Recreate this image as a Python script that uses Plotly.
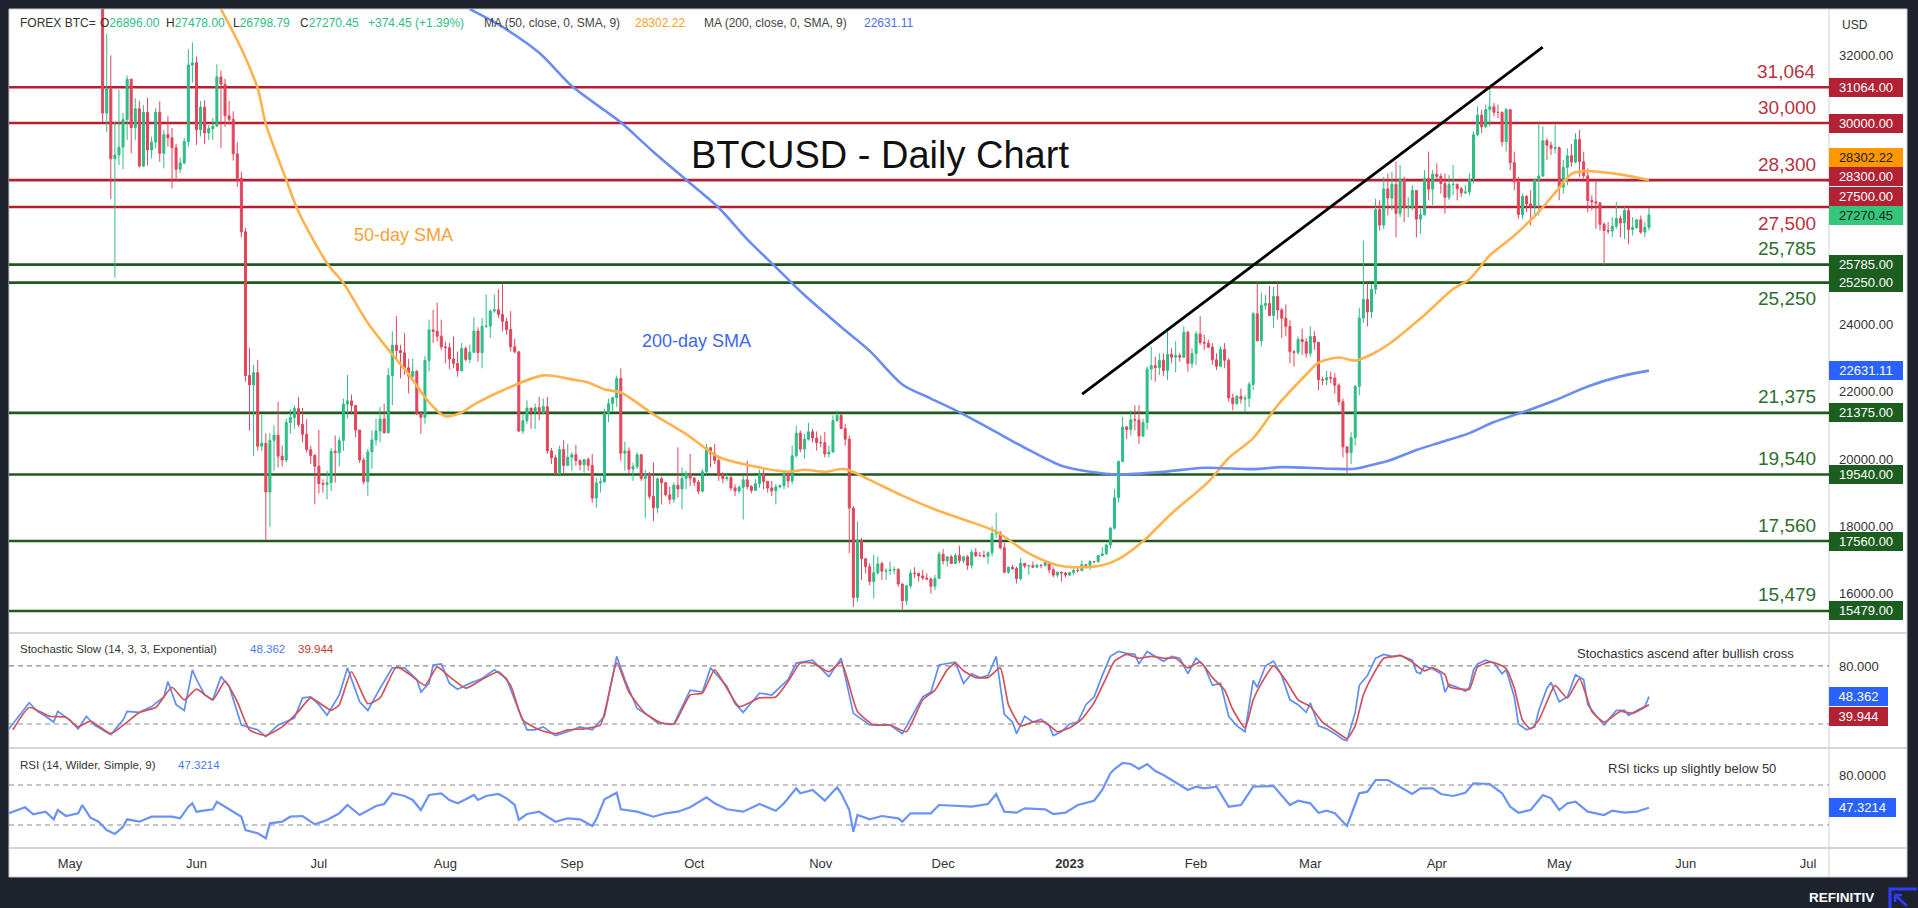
import pandas as pd
import plotly.graph_objects as go

# ---------------------------------------------------------------- data
first_open = 34060.0

close_2022_05 = [30296, 31022, 28936, 29047, 29283, 30101, 31305, 29863, 30425, 28720, 30314, 29200, 29432, 30323, 29098, 29655, 29562, 29267, 28627, 28814, 29445, 31726, 31792]
high_2022_05 = [34245, 32659, 32013, 30032, 30997, 30301, 31414, 31320, 30738, 30666, 30532, 30750, 29600, 30450, 30650, 29800, 30200, 29850, 29380, 28970, 29560, 32200, 32400]
low_2022_05 = [30033, 29730, 27736, 25400, 28751, 28630, 29491, 29100, 29500, 28680, 28688, 28743, 28950, 29250, 28850, 28650, 29300, 28050, 28250, 28500, 28770, 29300, 31200]

close_2022_06 = [29800, 30468, 29704, 29833, 29906, 31370, 31155, 30214, 30112, 29083, 28360, 26762, 22487, 22206, 22572, 20381, 20471, 19017, 20554, 20711, 20087, 19969, 21086, 21232, 21503, 21028, 20735, 20281, 20105, 19785]
high_2022_06 = [31980, 30650, 30680, 29940, 30150, 31750, 31560, 31320, 30660, 30350, 29430, 28550, 26880, 23300, 22800, 22950, 21320, 20760, 20780, 21000, 21700, 20400, 21200, 21480, 21600, 21850, 21520, 21180, 20400, 20150]
low_2022_06 = [29350, 29600, 29370, 29500, 29500, 29900, 29260, 29880, 29950, 28880, 28100, 26600, 22300, 20850, 20100, 20250, 20240, 17600, 17980, 19650, 19750, 19770, 19900, 20750, 20900, 20950, 20500, 20200, 19850, 18650]

close_2022_07 = [19270, 19243, 19297, 20232, 20190, 20548, 21638, 21731, 21593, 20862, 19970, 19323, 20212, 20569, 20836, 21191, 20779, 22485, 23389, 23231, 23164, 22714, 22465, 22609, 21361, 21239, 22930, 23843, 23804, 23656, 23336]
high_2022_07 = [20870, 19400, 19650, 20330, 20700, 20660, 21800, 22500, 21920, 21600, 20870, 20050, 20300, 20850, 21200, 21550, 21650, 22700, 23800, 24250, 23400, 23750, 22980, 23000, 22650, 21380, 23070, 24150, 24440, 24650, 24150]
low_2022_07 = [18970, 19000, 18800, 19050, 19300, 19780, 20240, 21200, 21330, 20650, 19880, 19240, 18910, 19700, 20400, 20500, 20770, 20770, 21600, 23000, 22400, 22500, 21950, 22300, 21300, 20750, 21050, 22600, 23450, 23500, 23250]

close_2022_08 = [23314, 22978, 22846, 22630, 23289, 22961, 23175, 23810, 23164, 23948, 23957, 24403, 24441, 24305, 24094, 23854, 23342, 23191, 20834, 21140, 21516, 21400, 21529, 21368, 21559, 20241, 20037, 19555, 20285, 19811, 20050]
high_2022_08 = [23480, 23450, 23650, 23200, 23450, 23350, 23400, 24220, 23920, 24200, 24900, 24450, 24900, 25050, 25200, 24200, 24400, 23580, 23200, 21350, 21750, 21520, 21650, 21850, 21800, 21850, 20330, 20120, 20400, 20560, 20450]
low_2022_08 = [22850, 22680, 22700, 22450, 22600, 22900, 22850, 23150, 22900, 22700, 23900, 23600, 24350, 24200, 23800, 23700, 23200, 23150, 20800, 20750, 21050, 20900, 20900, 21150, 21330, 20150, 19850, 19550, 19550, 19550, 19800]

close_2022_09 = [20127, 19952, 19832, 19986, 19812, 18837, 19290, 19319, 21361, 21651, 21826, 22395, 20173, 20241, 19701, 19772, 20127, 19419, 19544, 18891, 18547, 19413, 19297, 18937, 18802, 19222, 19110, 19426, 19573, 19431]
high_2022_09 = [20200, 20420, 19990, 20000, 20050, 20150, 19450, 19450, 21500, 21800, 21850, 22480, 22700, 20520, 20350, 19890, 20200, 20150, 19680, 19620, 19900, 19450, 19480, 19300, 19180, 19300, 20350, 19750, 19650, 20150]
low_2022_09 = [19650, 19800, 19660, 19600, 19650, 18700, 18550, 19000, 19300, 21100, 21400, 21550, 19950, 19650, 19550, 19350, 19700, 19350, 18250, 18800, 18150, 18400, 18650, 18880, 18650, 18700, 18850, 18500, 19100, 19200]

close_2022_10 = [19312, 19044, 19623, 20336, 20161, 19957, 19531, 19417, 19446, 19141, 19051, 19157, 19382, 19185, 19067, 19268, 19550, 19334, 19139, 19053, 19172, 19208, 19567, 19345, 20095, 20771, 20295, 20591, 20809, 20627, 20490]
high_2022_10 = [19470, 19380, 19700, 20450, 20350, 20450, 20050, 19600, 19550, 19520, 19250, 19220, 19500, 19950, 19220, 19400, 19680, 19700, 19350, 19350, 19250, 19250, 19680, 19600, 20400, 21000, 20850, 20750, 21080, 20900, 20820]
low_2022_10 = [19200, 18950, 19000, 19550, 19750, 19850, 19350, 19280, 19350, 19050, 18900, 18980, 18200, 19100, 18980, 19050, 19150, 19100, 19000, 18900, 18650, 19120, 19100, 19150, 19250, 20050, 20200, 20000, 20550, 20500, 20250]

close_2022_11 = [20483, 20151, 20207, 21148, 21300, 20905, 20591, 18541, 15880, 17586, 17034, 16799, 16353, 16618, 16884, 16663, 16680, 16698, 16712, 16280, 15782, 16226, 16603, 16598, 16522, 16458, 16428, 16212, 16442, 17168]
high_2022_11 = [20700, 20800, 20400, 21300, 21450, 21350, 21050, 20700, 18600, 18150, 17650, 17050, 16900, 17150, 17100, 16950, 16750, 16950, 16800, 16750, 16300, 16250, 16700, 16780, 16610, 16700, 16600, 16480, 16550, 17250]
low_2022_11 = [20350, 20050, 20050, 20200, 21100, 20900, 20400, 17200, 15600, 15750, 16400, 16600, 16250, 15850, 16550, 16400, 16400, 16550, 16580, 16200, 15479, 15650, 16150, 16460, 16350, 16400, 16400, 16000, 16100, 16430]

close_2022_12 = [16968, 17090, 16890, 17130, 16975, 17089, 16837, 17225, 17128, 17128, 17105, 17207, 17780, 17803, 17357, 16633, 16776, 16739, 16439, 16900, 16818, 16823, 16780, 16843, 16832, 16917, 16703, 16545, 16633, 16607, 16547]
high_2022_12 = [17320, 17100, 17150, 17200, 17420, 17100, 17140, 17300, 17350, 17230, 17270, 17250, 18000, 18400, 17850, 17500, 16800, 16850, 16800, 17050, 16900, 16860, 16950, 16870, 16860, 16950, 16950, 16780, 16650, 16650, 16640]
low_2022_12 = [16860, 16800, 16880, 16880, 16900, 16900, 16700, 16740, 17080, 17090, 17070, 16880, 17100, 17650, 17300, 16600, 16580, 16700, 16300, 16400, 16750, 16550, 16770, 16780, 16750, 16800, 16600, 16480, 16480, 16350, 16480]

close_2023_01 = [16625, 16688, 16680, 16857, 16831, 16950, 16944, 17127, 17178, 17440, 17943, 18846, 19930, 20955, 20880, 21169, 21161, 20688, 21086, 22676, 22777, 22720, 22934, 22636, 23117, 23032, 23078, 23031, 23774, 22840, 23139]
high_2023_01 = [16640, 16750, 16760, 16980, 16880, 17000, 16960, 17150, 17380, 17480, 17980, 19100, 19950, 21250, 20980, 21450, 21600, 21600, 21200, 22750, 23350, 23050, 23150, 23150, 23800, 23300, 23500, 23150, 23950, 23820, 23300]
low_2023_01 = [16520, 16550, 16620, 16660, 16750, 16700, 16900, 16920, 17120, 17150, 17330, 17900, 18700, 19900, 20600, 20700, 20850, 20450, 20650, 20870, 22350, 22300, 22500, 22480, 22350, 22850, 22580, 22900, 23000, 22600, 22720]

close_2023_02 = [23723, 23471, 23449, 23331, 22955, 22760, 23264, 22939, 21819, 21651, 21870, 21788, 21808, 22220, 24324, 23517, 24570, 24631, 24271, 24838, 24436, 24189, 23947, 23198, 23175, 23555, 23492, 23148]
high_2023_02 = [23800, 24250, 23700, 23550, 23450, 23150, 23350, 23450, 23000, 21950, 21900, 22100, 21900, 22300, 24380, 25250, 24950, 24880, 25150, 25120, 25250, 24500, 24600, 24130, 23230, 23650, 23880, 23600]
low_2023_02 = [22800, 23400, 23250, 23300, 22800, 22650, 22750, 22700, 21700, 21450, 21600, 21650, 21400, 21550, 22050, 23500, 23350, 24450, 24250, 23900, 24150, 23600, 23650, 22850, 22750, 23100, 23100, 23020]

close_2023_03 = [23647, 23475, 22362, 22354, 22430, 22410, 22198, 21705, 20363, 20187, 20633, 22163, 24197, 24746, 24376, 25052, 27423, 26966, 28038, 27767, 28176, 27307, 28333, 27493, 27494, 27994, 27139, 27268, 28348, 28033, 28478]
high_2023_03 = [23950, 23800, 23480, 22450, 22620, 22600, 22550, 22250, 21800, 20380, 20800, 22200, 24500, 26500, 25250, 25200, 27750, 27700, 28400, 28500, 28550, 28850, 28750, 28400, 27800, 28150, 28000, 27450, 28600, 29150, 28600]
low_2023_03 = [23050, 23250, 22050, 22200, 22200, 22250, 21950, 21600, 20050, 19540, 19850, 20400, 21900, 24050, 23950, 24200, 24900, 26800, 26850, 27250, 27400, 26600, 27200, 27050, 27200, 27400, 26600, 26700, 27250, 27700, 27560]

close_2023_04 = [28411, 28200, 27790, 28169, 28175, 28044, 27925, 27948, 28333, 29653, 30235, 29892, 30400, 30485, 30318, 30315, 29445, 30397, 28822, 28245, 27276, 27817, 27592, 27525, 28307, 28422, 29473, 29340, 29248, 29268]
high_2023_04 = [28800, 28500, 28500, 28450, 28750, 28200, 28100, 28150, 28500, 29750, 30500, 30400, 30550, 31064, 30600, 30550, 30350, 30450, 30400, 29150, 28400, 27900, 27850, 28000, 28350, 30000, 29900, 29550, 29450, 29950]
low_2023_04 = [28250, 27900, 27300, 27700, 27850, 27700, 27800, 27880, 27850, 28200, 29600, 29700, 29850, 29900, 30200, 30150, 29300, 29150, 28600, 28000, 27150, 27150, 27350, 26950, 27200, 27250, 28400, 28900, 29050, 29100]

close_2023_05 = [28091, 28680, 29026, 28838, 29507, 28848, 28430, 27694, 27655, 27621, 26988, 26804, 26785, 26931, 27158, 27030, 27400, 26833, 26890, 27118, 26754, 26896, 27270.45]
high_2023_05 = [29300, 28900, 29250, 29380, 29700, 29800, 29150, 28650, 27850, 28300, 27650, 27050, 27050, 27200, 27650, 27250, 27500, 27500, 27200, 27150, 27250, 27050, 27478]
low_2023_05 = [27700, 27900, 28150, 28700, 28800, 28400, 28350, 27350, 27400, 26850, 26800, 25785, 26700, 26600, 26850, 26600, 26550, 26400, 26650, 26850, 26700, 26600, 26798.79]

closes = (close_2022_05 + close_2022_06 + close_2022_07 + close_2022_08 + close_2022_09 + close_2022_10
          + close_2022_11 + close_2022_12 + close_2023_01 + close_2023_02 + close_2023_03 + close_2023_04 + close_2023_05)
highs = (high_2022_05 + high_2022_06 + high_2022_07 + high_2022_08 + high_2022_09 + high_2022_10
         + high_2022_11 + high_2022_12 + high_2023_01 + high_2023_02 + high_2023_03 + high_2023_04 + high_2023_05)
lows = (low_2022_05 + low_2022_06 + low_2022_07 + low_2022_08 + low_2022_09 + low_2022_10
        + low_2022_11 + low_2022_12 + low_2023_01 + low_2023_02 + low_2023_03 + low_2023_04 + low_2023_05)
assert len(closes) == len(highs) == len(lows) == 380
dates = pd.date_range("2022-05-09", periods=len(closes), freq="D")
opens = [first_open] + closes[:-1]

sma50 = [("2022-06-07", 33390), ("2022-06-12", 32210), ("2022-06-16", 31030), ("2022-06-18", 29970),
         ("2022-06-23", 28310), ("2022-06-26", 27360), ("2022-07-03", 25830), ("2022-07-07", 25240),
         ("2022-07-13", 24050), ("2022-07-19", 23110), ("2022-07-23", 22520), ("2022-07-28", 21690),
         ("2022-08-01", 21270), ("2022-08-05", 21390), ("2022-08-08", 21620), ("2022-08-15", 22040),
         ("2022-08-25", 22490), ("2022-09-01", 22370), ("2022-09-05", 22280), ("2022-09-09", 22070),
         ("2022-09-13", 21980), ("2022-09-21", 21330), ("2022-09-29", 20740), ("2022-10-07", 20060),
         ("2022-10-15", 19800), ("2022-10-24", 19620), ("2022-10-28", 19680), ("2022-11-02", 19620),
         ("2022-11-07", 19700), ("2022-11-13", 19380), ("2022-11-21", 18910), ("2022-11-29", 18500),
         ("2022-12-06", 18200), ("2022-12-14", 17840), ("2022-12-22", 17190), ("2022-12-29", 16840),
         ("2023-01-03", 16780), ("2023-01-09", 16840), ("2023-01-13", 17020), ("2023-01-19", 17550),
         ("2023-01-26", 18380), ("2023-02-04", 19320), ("2023-02-09", 20030), ("2023-02-15", 20620),
         ("2023-02-21", 21600), ("2023-02-28", 22515), ("2023-03-03", 22870), ("2023-03-08", 23020),
         ("2023-03-12", 22930), ("2023-03-16", 23110), ("2023-03-20", 23400), ("2023-03-29", 24290),
         ("2023-04-05", 25060), ("2023-04-09", 25350), ("2023-04-14", 26060), ("2023-04-20", 26650),
         ("2023-04-26", 27360), ("2023-05-01", 28070), ("2023-05-04", 28490), ("2023-05-07", 28570),
         ("2023-05-11", 28545), ("2023-05-17", 28450), ("2023-05-23", 28302.22)]

sma200 = [("2022-08-07", 33390), ("2022-08-15", 32860), ("2022-08-24", 32090), ("2022-09-01", 31100),
          ("2022-09-09", 30380), ("2022-09-13", 30020), ("2022-09-21", 29140), ("2022-09-29", 28310),
          ("2022-10-07", 27480), ("2022-10-14", 26540), ("2022-10-21", 25710), ("2022-10-28", 24880),
          ("2022-11-06", 23930), ("2022-11-13", 23220), ("2022-11-21", 22220), ("2022-11-28", 21800),
          ("2022-12-06", 21330), ("2022-12-14", 20800), ("2022-12-22", 20270), ("2022-12-30", 19800),
          ("2023-01-06", 19620), ("2023-01-13", 19540), ("2023-01-24", 19620), ("2023-02-03", 19740),
          ("2023-02-15", 19700), ("2023-02-22", 19760), ("2023-03-06", 19710), ("2023-03-12", 19710),
          ("2023-03-17", 19850), ("2023-03-20", 19940), ("2023-03-27", 20270), ("2023-04-02", 20500),
          ("2023-04-09", 20770), ("2023-04-15", 21100), ("2023-04-22", 21390), ("2023-04-30", 21750),
          ("2023-05-08", 22160), ("2023-05-16", 22460), ("2023-05-23", 22631.11)]

stoch_k = [("2022-04-16", 14.8), ("2022-04-21", 42), ("2022-04-23", 33), ("2022-04-25", 28), ("2022-04-27", 22),
           ("2022-04-28", 33), ("2022-05-01", 24), ("2022-05-03", 15), ("2022-05-05", 28), ("2022-05-07", 19),
           ("2022-05-11", 9), ("2022-05-14", 24), ("2022-05-15", 33), ("2022-05-18", 32), ("2022-05-21", 38),
           ("2022-05-24", 48), ("2022-05-25", 64), ("2022-05-27", 40), ("2022-05-29", 34), ("2022-05-31", 76),
           ("2022-06-01", 66), ("2022-06-03", 50), ("2022-06-05", 45), ("2022-06-07", 69), ("2022-06-09", 59),
           ("2022-06-12", 19), ("2022-06-16", 14), ("2022-06-18", 7), ("2022-06-21", 19), ("2022-06-25", 26),
           ("2022-06-27", 47), ("2022-06-29", 48), ("2022-07-01", 40), ("2022-07-03", 29), ("2022-07-06", 50),
           ("2022-07-08", 78), ("2022-07-11", 43), ("2022-07-13", 34), ("2022-07-16", 57), ("2022-07-19", 78),
           ("2022-07-22", 78), ("2022-07-25", 66), ("2022-07-26", 53), ("2022-07-28", 62), ("2022-07-29", 81),
           ("2022-07-31", 82), ("2022-08-02", 62), ("2022-08-04", 56), ("2022-08-07", 62), ("2022-08-10", 67),
           ("2022-08-13", 76), ("2022-08-16", 67), ("2022-08-19", 34), ("2022-08-21", 14), ("2022-08-23", 14),
           ("2022-08-25", 17), ("2022-08-28", 8), ("2022-08-31", 12), ("2022-09-03", 17), ("2022-09-06", 14),
           ("2022-09-09", 28), ("2022-09-12", 90), ("2022-09-14", 66), ("2022-09-17", 36), ("2022-09-20", 28),
           ("2022-09-22", 21), ("2022-09-26", 20), ("2022-09-30", 55), ("2022-10-03", 53), ("2022-10-05", 78),
           ("2022-10-09", 59), ("2022-10-11", 41), ("2022-10-13", 32), ("2022-10-17", 52), ("2022-10-20", 50),
           ("2022-10-24", 66), ("2022-10-26", 83), ("2022-10-30", 86), ("2022-11-03", 69), ("2022-11-06", 88),
           ("2022-11-09", 31), ("2022-11-13", 19), ("2022-11-18", 19), ("2022-11-21", 10), ("2022-11-26", 48),
           ("2022-11-28", 53), ("2022-11-30", 81), ("2022-12-04", 84), ("2022-12-06", 62), ("2022-12-08", 72),
           ("2022-12-10", 68), ("2022-12-12", 70), ("2022-12-14", 90), ("2022-12-16", 30), ("2022-12-18", 22),
           ("2022-12-19", 10), ("2022-12-21", 28), ("2022-12-23", 22), ("2022-12-25", 25), ("2022-12-27", 18),
           ("2022-12-28", 8), ("2022-12-30", 12), ("2023-01-01", 20), ("2023-01-03", 22), ("2023-01-05", 40),
           ("2023-01-07", 48), ("2023-01-09", 70), ("2023-01-11", 90), ("2023-01-13", 95), ("2023-01-15", 93),
           ("2023-01-17", 92), ("2023-01-18", 82), ("2023-01-20", 95), ("2023-01-22", 90), ("2023-01-24", 85),
           ("2023-01-26", 90), ("2023-01-28", 88), ("2023-01-30", 72), ("2023-02-01", 88), ("2023-02-03", 80),
           ("2023-02-05", 60), ("2023-02-07", 62), ("2023-02-09", 28), ("2023-02-11", 18), ("2023-02-13", 12),
           ("2023-02-15", 65), ("2023-02-16", 58), ("2023-02-18", 80), ("2023-02-20", 85), ("2023-02-22", 70),
           ("2023-02-24", 45), ("2023-02-26", 40), ("2023-02-28", 32), ("2023-03-01", 42), ("2023-03-03", 18),
           ("2023-03-05", 15), ("2023-03-07", 10), ("2023-03-09", 4), ("2023-03-10", 3), ("2023-03-12", 32),
           ("2023-03-13", 60), ("2023-03-15", 70), ("2023-03-17", 88), ("2023-03-19", 92), ("2023-03-21", 90),
           ("2023-03-23", 91), ("2023-03-26", 86), ("2023-03-27", 74), ("2023-03-28", 72), ("2023-03-29", 80),
           ("2023-03-31", 77), ("2023-04-02", 72), ("2023-04-03", 53), ("2023-04-04", 61), ("2023-04-06", 58),
           ("2023-04-08", 54), ("2023-04-09", 58), ("2023-04-10", 76), ("2023-04-11", 82), ("2023-04-13", 86),
           ("2023-04-15", 83), ("2023-04-17", 72), ("2023-04-18", 76), ("2023-04-20", 48), ("2023-04-21", 20),
           ("2023-04-23", 14), ("2023-04-25", 17), ("2023-04-26", 34), ("2023-04-28", 57), ("2023-04-29", 63),
           ("2023-05-01", 43), ("2023-05-03", 48), ("2023-05-05", 71), ("2023-05-07", 66), ("2023-05-08", 40),
           ("2023-05-10", 29), ("2023-05-12", 19), ("2023-05-13", 24), ("2023-05-15", 34), ("2023-05-17", 34),
           ("2023-05-18", 29), ("2023-05-20", 34), ("2023-05-22", 38), ("2023-05-23", 48.362)]

stoch_d = [("2022-04-17", 14), ("2022-04-21", 37), ("2022-04-26", 28), ("2022-04-30", 27), ("2022-05-03", 17),
           ("2022-05-06", 23), ("2022-05-11", 10), ("2022-05-15", 22), ("2022-05-18", 32), ("2022-05-22", 37),
           ("2022-05-26", 58), ("2022-05-29", 45), ("2022-06-01", 56), ("2022-06-05", 45), ("2022-06-08", 64),
           ("2022-06-11", 43), ("2022-06-14", 14), ("2022-06-18", 8), ("2022-06-22", 17), ("2022-06-26", 33),
           ("2022-06-29", 47), ("2022-07-04", 34), ("2022-07-06", 40), ("2022-07-09", 74), ("2022-07-13", 41),
           ("2022-07-16", 47), ("2022-07-20", 79), ("2022-07-23", 72), ("2022-07-27", 60), ("2022-07-30", 79),
           ("2022-08-02", 69), ("2022-08-06", 57), ("2022-08-10", 66), ("2022-08-14", 74), ("2022-08-17", 60),
           ("2022-08-20", 24), ("2022-08-24", 14), ("2022-08-28", 10), ("2022-08-31", 14), ("2022-09-04", 15),
           ("2022-09-08", 19), ("2022-09-12", 83), ("2022-09-15", 53), ("2022-09-19", 31), ("2022-09-23", 21),
           ("2022-09-26", 20), ("2022-09-30", 50), ("2022-10-03", 52), ("2022-10-06", 76), ("2022-10-09", 57),
           ("2022-10-12", 38), ("2022-10-17", 47), ("2022-10-21", 48), ("2022-10-24", 64), ("2022-10-27", 83),
           ("2022-10-30", 83), ("2022-11-03", 74), ("2022-11-06", 84), ("2022-11-10", 33), ("2022-11-14", 19),
           ("2022-11-18", 19), ("2022-11-22", 12), ("2022-11-26", 45), ("2022-11-29", 55), ("2022-12-02", 76),
           ("2022-12-04", 83), ("2022-12-06", 75), ("2022-12-09", 68), ("2022-12-12", 68), ("2022-12-15", 78),
           ("2022-12-17", 40), ("2022-12-20", 18), ("2022-12-23", 22), ("2022-12-26", 22), ("2022-12-29", 12),
           ("2023-01-01", 16), ("2023-01-04", 25), ("2023-01-07", 42), ("2023-01-10", 68), ("2023-01-12", 85),
           ("2023-01-15", 92), ("2023-01-18", 88), ("2023-01-21", 90), ("2023-01-24", 88), ("2023-01-27", 88),
           ("2023-01-30", 78), ("2023-02-02", 84), ("2023-02-05", 68), ("2023-02-08", 55), ("2023-02-10", 35),
           ("2023-02-13", 16), ("2023-02-15", 45), ("2023-02-17", 62), ("2023-02-20", 80), ("2023-02-23", 65),
           ("2023-02-26", 45), ("2023-03-01", 38), ("2023-03-04", 22), ("2023-03-07", 13), ("2023-03-10", 5),
           ("2023-03-12", 18), ("2023-03-14", 50), ("2023-03-16", 68), ("2023-03-19", 88), ("2023-03-22", 90),
           ("2023-03-23", 91), ("2023-03-26", 84), ("2023-03-29", 75), ("2023-03-31", 78), ("2023-04-03", 71),
           ("2023-04-04", 59), ("2023-04-07", 56), ("2023-04-09", 56), ("2023-04-11", 79), ("2023-04-14", 84),
           ("2023-04-16", 82), ("2023-04-18", 77), ("2023-04-20", 57), ("2023-04-22", 24), ("2023-04-24", 15),
           ("2023-04-26", 24), ("2023-04-29", 53), ("2023-04-30", 60), ("2023-05-03", 47), ("2023-05-06", 67),
           ("2023-05-09", 33), ("2023-05-12", 22), ("2023-05-16", 33), ("2023-05-19", 31), ("2023-05-23", 39.944)]

rsi = [("2022-04-16", 41.7), ("2022-04-20", 47.7), ("2022-04-22", 40.7), ("2022-04-25", 43.3), ("2022-04-27", 35.7),
       ("2022-04-28", 45), ("2022-04-30", 39), ("2022-05-03", 41.7), ("2022-05-04", 50), ("2022-05-06", 37.3),
       ("2022-05-08", 33.3), ("2022-05-10", 25), ("2022-05-12", 21), ("2022-05-14", 28.3), ("2022-05-15", 35.7),
       ("2022-05-18", 33.3), ("2022-05-21", 38.3), ("2022-05-26", 38.3), ("2022-05-28", 36.7), ("2022-05-30", 48.3),
       ("2022-05-31", 51.7), ("2022-06-01", 43.3), ("2022-06-05", 45.7), ("2022-06-06", 53.3), ("2022-06-09", 45.7),
       ("2022-06-12", 38.3), ("2022-06-13", 25), ("2022-06-16", 21.7), ("2022-06-18", 16.7), ("2022-06-19", 31.7),
       ("2022-06-22", 33.3), ("2022-06-24", 38.3), ("2022-06-27", 39), ("2022-06-30", 30.7), ("2022-07-03", 35),
       ("2022-07-06", 41.7), ("2022-07-08", 50), ("2022-07-11", 40), ("2022-07-15", 49), ("2022-07-17", 51),
       ("2022-07-19", 61.7), ("2022-07-22", 59), ("2022-07-24", 55), ("2022-07-26", 45), ("2022-07-28", 60),
       ("2022-07-31", 61.7), ("2022-08-02", 55), ("2022-08-04", 51.7), ("2022-08-06", 55.7), ("2022-08-08", 60),
       ("2022-08-09", 55), ("2022-08-11", 59), ("2022-08-14", 61), ("2022-08-16", 56.7), ("2022-08-18", 50),
       ("2022-08-19", 35), ("2022-08-21", 41), ("2022-08-24", 43.3), ("2022-08-26", 38.3), ("2022-08-28", 33.3),
       ("2022-08-31", 36.7), ("2022-09-03", 35.7), ("2022-09-06", 29), ("2022-09-07", 35.7), ("2022-09-09", 55.7),
       ("2022-09-12", 62.3), ("2022-09-13", 45.7), ("2022-09-17", 43.3), ("2022-09-21", 38.3), ("2022-09-24", 41.7),
       ("2022-09-27", 43.3), ("2022-09-30", 47.7), ("2022-10-04", 57.7), ("2022-10-06", 51.7), ("2022-10-09", 45.7),
       ("2022-10-13", 43.3), ("2022-10-17", 51), ("2022-10-21", 44.3), ("2022-10-23", 51.7), ("2022-10-26", 66.7),
       ("2022-10-27", 61.7), ("2022-10-30", 65), ("2022-11-02", 54.3), ("2022-11-05", 67.7), ("2022-11-06", 61.7),
       ("2022-11-08", 45), ("2022-11-09", 23.3), ("2022-11-10", 40), ("2022-11-13", 35.7), ("2022-11-16", 39),
       ("2022-11-20", 36.7), ("2022-11-21", 33.3), ("2022-11-23", 41.7), ("2022-11-28", 41.7), ("2022-11-30", 50),
       ("2022-12-04", 49), ("2022-12-08", 48.3), ("2022-12-12", 51), ("2022-12-14", 61), ("2022-12-16", 43.3),
       ("2022-12-19", 42.3), ("2022-12-21", 46.7), ("2022-12-26", 45.7), ("2022-12-28", 41), ("2022-12-31", 42.3),
       ("2023-01-03", 50), ("2023-01-07", 54.3), ("2023-01-09", 65), ("2023-01-11", 81.7), ("2023-01-12", 86),
       ("2023-01-14", 92), ("2023-01-16", 91), ("2023-01-18", 86), ("2023-01-20", 91), ("2023-01-22", 84),
       ("2023-01-24", 80), ("2023-01-26", 75), ("2023-01-30", 65), ("2023-02-01", 68.3), ("2023-02-03", 66.7),
       ("2023-02-06", 68.3), ("2023-02-09", 48.3), ("2023-02-12", 50), ("2023-02-15", 68.3), ("2023-02-20", 69),
       ("2023-02-22", 59), ("2023-02-24", 50), ("2023-02-26", 54.3), ("2023-03-01", 51.7), ("2023-03-03", 42.3),
       ("2023-03-05", 44.3), ("2023-03-07", 41.7), ("2023-03-10", 29), ("2023-03-11", 40), ("2023-03-13", 61.7),
       ("2023-03-15", 63.3), ("2023-03-17", 75), ("2023-03-20", 75), ("2023-03-23", 68.3), ("2023-03-26", 61),
       ("2023-03-28", 66.7), ("2023-03-31", 66.7), ("2023-04-02", 61), ("2023-04-05", 59), ("2023-04-08", 62.3),
       ("2023-04-10", 71.7), ("2023-04-14", 71), ("2023-04-17", 61.7), ("2023-04-19", 48.3), ("2023-04-21", 42.3),
       ("2023-04-24", 45), ("2023-04-27", 60), ("2023-04-29", 56.7), ("2023-05-01", 45), ("2023-05-03", 51.7),
       ("2023-05-05", 53.3), ("2023-05-08", 43.3), ("2023-05-12", 40), ("2023-05-14", 44.3), ("2023-05-17", 42.3),
       ("2023-05-20", 43.3), ("2023-05-23", 47.3214)]

resistance_levels = [31064, 30000, 28300, 27500]
support_levels = [25785, 25250, 21375, 19540, 17560, 15479]
levels_label_below = [27500, 25250]

trend_dates = ["2023-01-04 02:00", "2023-04-26 23:00"]
trend_prices = [21930, 32260]

# only the price ticks whose labels are not covered by the value boxes
price_ticks = [16000, 18000, 20000, 22000, 24000, 32000]
month_ticks = ["2022-05-01", "2022-06-01", "2022-07-01", "2022-08-01", "2022-09-01", "2022-10-01", "2022-11-01",
               "2022-12-01", "2023-01-01", "2023-02-01", "2023-03-01", "2023-04-01", "2023-05-01", "2023-06-01",
               "2023-07-01"]
month_labels = ["May", "Jun", "Jul", "Aug", "Sep", "Oct", "Nov", "Dec", "2023", "Feb", "Mar", "Apr", "May", "Jun", "Jul"]

# ---------------------------------------------------------------- geometry / styles
W, H = 1918, 908
L, R, T, B = 9, 1829, 9, 848


def px(x):
    return (x - L) / (R - L)


def py(y):
    return (B - y) / (B - T)


FONT = "Liberation Sans, Arial, sans-serif"
RED_L = "#b3202f"
GREEN_L = "#1d5a1f"
RED_T = "#b8323f"
GREEN_T = "#2e6e30"
UP = "#2ebd85"
DOWN = "#e2455c"
ORANGE = "#ffb24d"
BLUE = "#6a8df2"
TXT = "#333333"


def unzip(pairs):
    return [p[0] for p in pairs], [p[1] for p in pairs]


fig = go.Figure()

fig.add_trace(go.Candlestick(
    x=dates, open=opens, high=highs, low=lows, close=closes,
    increasing=dict(line=dict(color=UP, width=1), fillcolor=UP),
    decreasing=dict(line=dict(color=DOWN, width=1), fillcolor=DOWN),
    whiskerwidth=0, showlegend=False, hoverinfo="skip", xaxis="x", yaxis="y"))

sx, sv = unzip(sma50)
fig.add_trace(go.Scatter(x=sx, y=sv, mode="lines", line=dict(color=ORANGE, width=2.6, shape="spline", smoothing=0.8),
                         showlegend=False, hoverinfo="skip", xaxis="x", yaxis="y"))
bx, bv = unzip(sma200)
fig.add_trace(go.Scatter(x=bx, y=bv, mode="lines", line=dict(color=BLUE, width=2.6, shape="spline", smoothing=0.8),
                         showlegend=False, hoverinfo="skip", xaxis="x", yaxis="y"))

kx, kv = unzip(stoch_k)
dx, dv = unzip(stoch_d)
fig.add_trace(go.Scatter(x=kx, y=kv, mode="lines", line=dict(color="#5f8ff2", width=1.7),
                         showlegend=False, hoverinfo="skip", xaxis="x", yaxis="y2"))
fig.add_trace(go.Scatter(x=dx, y=dv, mode="lines", line=dict(color="#d0545c", width=1.7, shape="spline", smoothing=0.5),
                         showlegend=False, hoverinfo="skip", xaxis="x", yaxis="y2"))
rx, rv = unzip(rsi)
fig.add_trace(go.Scatter(x=rx, y=rv, mode="lines", line=dict(color="#6a93f5", width=2.2),
                         showlegend=False, hoverinfo="skip", xaxis="x", yaxis="y3"))

shapes = []
shapes.append(dict(type="rect", xref="paper", yref="paper", x0=px(9), x1=px(1907), y0=py(877), y1=py(9),
                   fillcolor="white", line=dict(color="#c9ccd3", width=1), layer="below"))
for yy in (633, 748, 848):
    shapes.append(dict(type="line", xref="paper", yref="paper", x0=px(9), x1=px(1907), y0=py(yy), y1=py(yy),
                       line=dict(color="#d5d5d5", width=2), layer="below"))
shapes.append(dict(type="line", xref="paper", yref="paper", x0=1, x1=1, y0=py(877), y1=py(9),
                   line=dict(color="#d0d0d0", width=1), layer="below"))
for lv in resistance_levels:
    shapes.append(dict(type="line", xref="paper", yref="y", x0=0, x1=1, y0=lv, y1=lv,
                       line=dict(color=RED_L, width=2.6), layer="below"))
for lv in support_levels:
    shapes.append(dict(type="line", xref="paper", yref="y", x0=0, x1=1, y0=lv, y1=lv,
                       line=dict(color=GREEN_L, width=2.6), layer="below"))
for lv in (80, 20):
    shapes.append(dict(type="line", xref="paper", yref="y2", x0=0, x1=1, y0=lv, y1=lv,
                       line=dict(color="#8c8c8c", width=1.2, dash="5px,4px"), layer="below"))
for lv in (70, 30):
    shapes.append(dict(type="line", xref="paper", yref="y3", x0=0, x1=1, y0=lv, y1=lv,
                       line=dict(color="#8c8c8c", width=1.2, dash="5px,4px"), layer="below"))
shapes.append(dict(type="line", xref="x", yref="y", x0=trend_dates[0], x1=trend_dates[1],
                   y0=trend_prices[0], y1=trend_prices[1], line=dict(color="black", width=2.8)))
LOGO = "#2e3dff"
shapes.append(dict(type="path", xref="paper", yref="paper",
                   path=f"M{px(1890)},{py(908)} L{px(1890)},{py(889)} L{px(1917)},{py(889)}",
                   line=dict(color=LOGO, width=3)))
shapes.append(dict(type="path", xref="paper", yref="paper",
                   path=(f"M{px(1907)},{py(906)} L{px(1895)},{py(895)} "
                         f"M{px(1895)},{py(895)} L{px(1895)},{py(902)} "
                         f"M{px(1895)},{py(895)} L{px(1902)},{py(895)}"),
                   line=dict(color=LOGO, width=2.5)))

ann = []


def text_at(x, y, text, size=12, color=TXT, xanchor="left", bold=False):
    ann.append(dict(xref="paper", yref="paper", x=px(x), y=py(y), text=(f"<b>{text}</b>" if bold else text),
                    showarrow=False, xanchor=xanchor, yanchor="middle",
                    font=dict(family=FONT, size=size, color=color)))


last_o, last_h, last_l, last_c = opens[-1], highs[-1], lows[-1], closes[-1]
chg = last_c - closes[-2]
pct = chg / closes[-2] * 100
G = "#2ebd85"
text_at(18, 23, "FOREX BTC=", 12)
text_at(98, 23, f"O<span style='color:{G}'>{last_o:.2f}</span>", 12)
text_at(164, 23, f"H<span style='color:{G}'>{last_h:.2f}</span>", 12)
text_at(231, 23, f"L<span style='color:{G}'>{last_l:.2f}</span>", 12)
text_at(298, 23, f"C<span style='color:{G}'>{last_c:.2f}</span>", 12)
text_at(366, 23, f"+{chg:.2f} (+{pct:.2f}%)", 12, G)
text_at(482, 23, "MA (50, close, 0, SMA, 9)", 12, "#444444")
text_at(633, 23, f"{sma50[-1][1]:.2f}", 12, "#f7a21b")
text_at(702, 23, "MA (200, close, 0, SMA, 9)", 12, "#444444")
text_at(862, 23, f"{sma200[-1][1]:.2f}", 12, "#4a6cf7")

text_at(18, 649, "Stochastic Slow (14, 3, 3, Exponential)", 11.5)
text_at(248, 649, f"{stoch_k[-1][1]:.3f}", 11.5, "#4a78f0")
text_at(296, 649, f"{stoch_d[-1][1]:.3f}", 11.5, "#c0392b")
text_at(18, 765, "RSI (14, Wilder, Simple, 9)", 11.5)
text_at(176, 765, f"{rsi[-1][1]:.4f}", 11.5, "#4a78f0")

text_at(1796, 653, "Stochastics ascend after bullish cross", 13, TXT, xanchor="right")
text_at(1778, 768, "RSI ticks up slightly below 50", 13, TXT, xanchor="right")

text_at(880, 155, "BTCUSD - Daily Chart", 38, "#111111", xanchor="center")
text_at(352, 235, "50-day SMA", 18, "#f7a134")
text_at(640, 341, "200-day SMA", 18, "#3d67f0")
text_at(1840, 25, "USD", 12)
text_at(1876, 897, "REFINITIV", 13.5, "white", xanchor="right", bold=True)

for lv in resistance_levels + support_levels:
    col = RED_T if lv in resistance_levels else GREEN_T
    ann.append(dict(xref="paper", yref="y", x=px(1818), y=lv, text=f"{lv:,}", showarrow=False,
                    xanchor="right", yanchor="middle", yshift=(-16 if lv in levels_label_below else 16),
                    font=dict(family=FONT, size=19, color=col)))


def box(value, yref, bg, fg, text, yshift=0, width=70, height=15):
    ann.append(dict(xref="paper", yref=yref, x=1.0, y=value, text=text, showarrow=False,
                    xanchor="left", yanchor="middle", yshift=yshift, bgcolor=bg, borderpad=2,
                    borderwidth=0, width=width, height=height, align="center",
                    font=dict(family=FONT, size=13, color=fg)))


BOX_RED = "#b22234"
BOX_GREEN = "#1b5e20"
box(31064, "y", BOX_RED, "white", "31064.00")
box(30000, "y", BOX_RED, "white", "30000.00")
box(sma50[-1][1], "y", "#ff9800", "#1a1a1a", f"{sma50[-1][1]:.2f}", yshift=23)
box(28300, "y", BOX_RED, "white", "28300.00", yshift=4)
box(27500, "y", BOX_RED, "white", "27500.00", yshift=11)
box(last_c, "y", "#34c77b", "#1a1a1a", f"{last_c:.2f}", yshift=-1)
for lv in support_levels:
    box(lv, "y", BOX_GREEN, "white", f"{lv:.2f}")
box(sma200[-1][1], "y", "#2962ff", "white", f"{sma200[-1][1]:.2f}")
box(stoch_k[-1][1], "y2", "#2962ff", "white", f"{stoch_k[-1][1]:.3f}", width=55)
box(stoch_d[-1][1], "y2", BOX_RED, "white", f"{stoch_d[-1][1]:.3f}", yshift=-12, width=55)
box(rsi[-1][1], "y3", "#2962ff", "white", f"{rsi[-1][1]:.4f}", width=63)

tick_text = [f"<b>{t}</b>" if t == "2023" else t for t in month_labels]

axis_common = dict(showgrid=False, zeroline=False, showline=False, ticks="", side="right",
                   tickfont=dict(family=FONT, size=13, color=TXT), ticklabelstandoff=9, anchor="x")

fig.update_layout(
    width=W, height=H, autosize=False,
    margin=dict(l=L, r=W - R, t=T, b=H - B, pad=0),
    paper_bgcolor="#1e222d", plot_bgcolor="rgba(0,0,0,0)",
    showlegend=False, hovermode=False,
    xaxis=dict(type="date", range=["2022-04-16 01:10", "2023-07-06 03:07"], domain=[0, 1], anchor="y3",
               tickvals=month_ticks, ticktext=tick_text, showgrid=False, zeroline=False, showline=False,
               ticks="", tickfont=dict(family=FONT, size=13, color=TXT), ticklabelstandoff=6,
               rangeslider=dict(visible=False), fixedrange=True),
    yaxis=dict(domain=[py(632), 1], range=[14852, 33394], tickvals=price_ticks,
               ticktext=[f"{v:.2f}" for v in price_ticks], **axis_common),
    yaxis2=dict(domain=[py(748), py(633)], range=[-4.83, 114.1], tickvals=[80], ticktext=["80.000"],
                **axis_common),
    yaxis3=dict(domain=[0, py(748)], range=[7, 107], tickvals=[80], ticktext=["80.0000"],
                **axis_common),
    shapes=shapes, annotations=ann,
)

fig.write_html("out.html", config={"displayModeBar": False})
